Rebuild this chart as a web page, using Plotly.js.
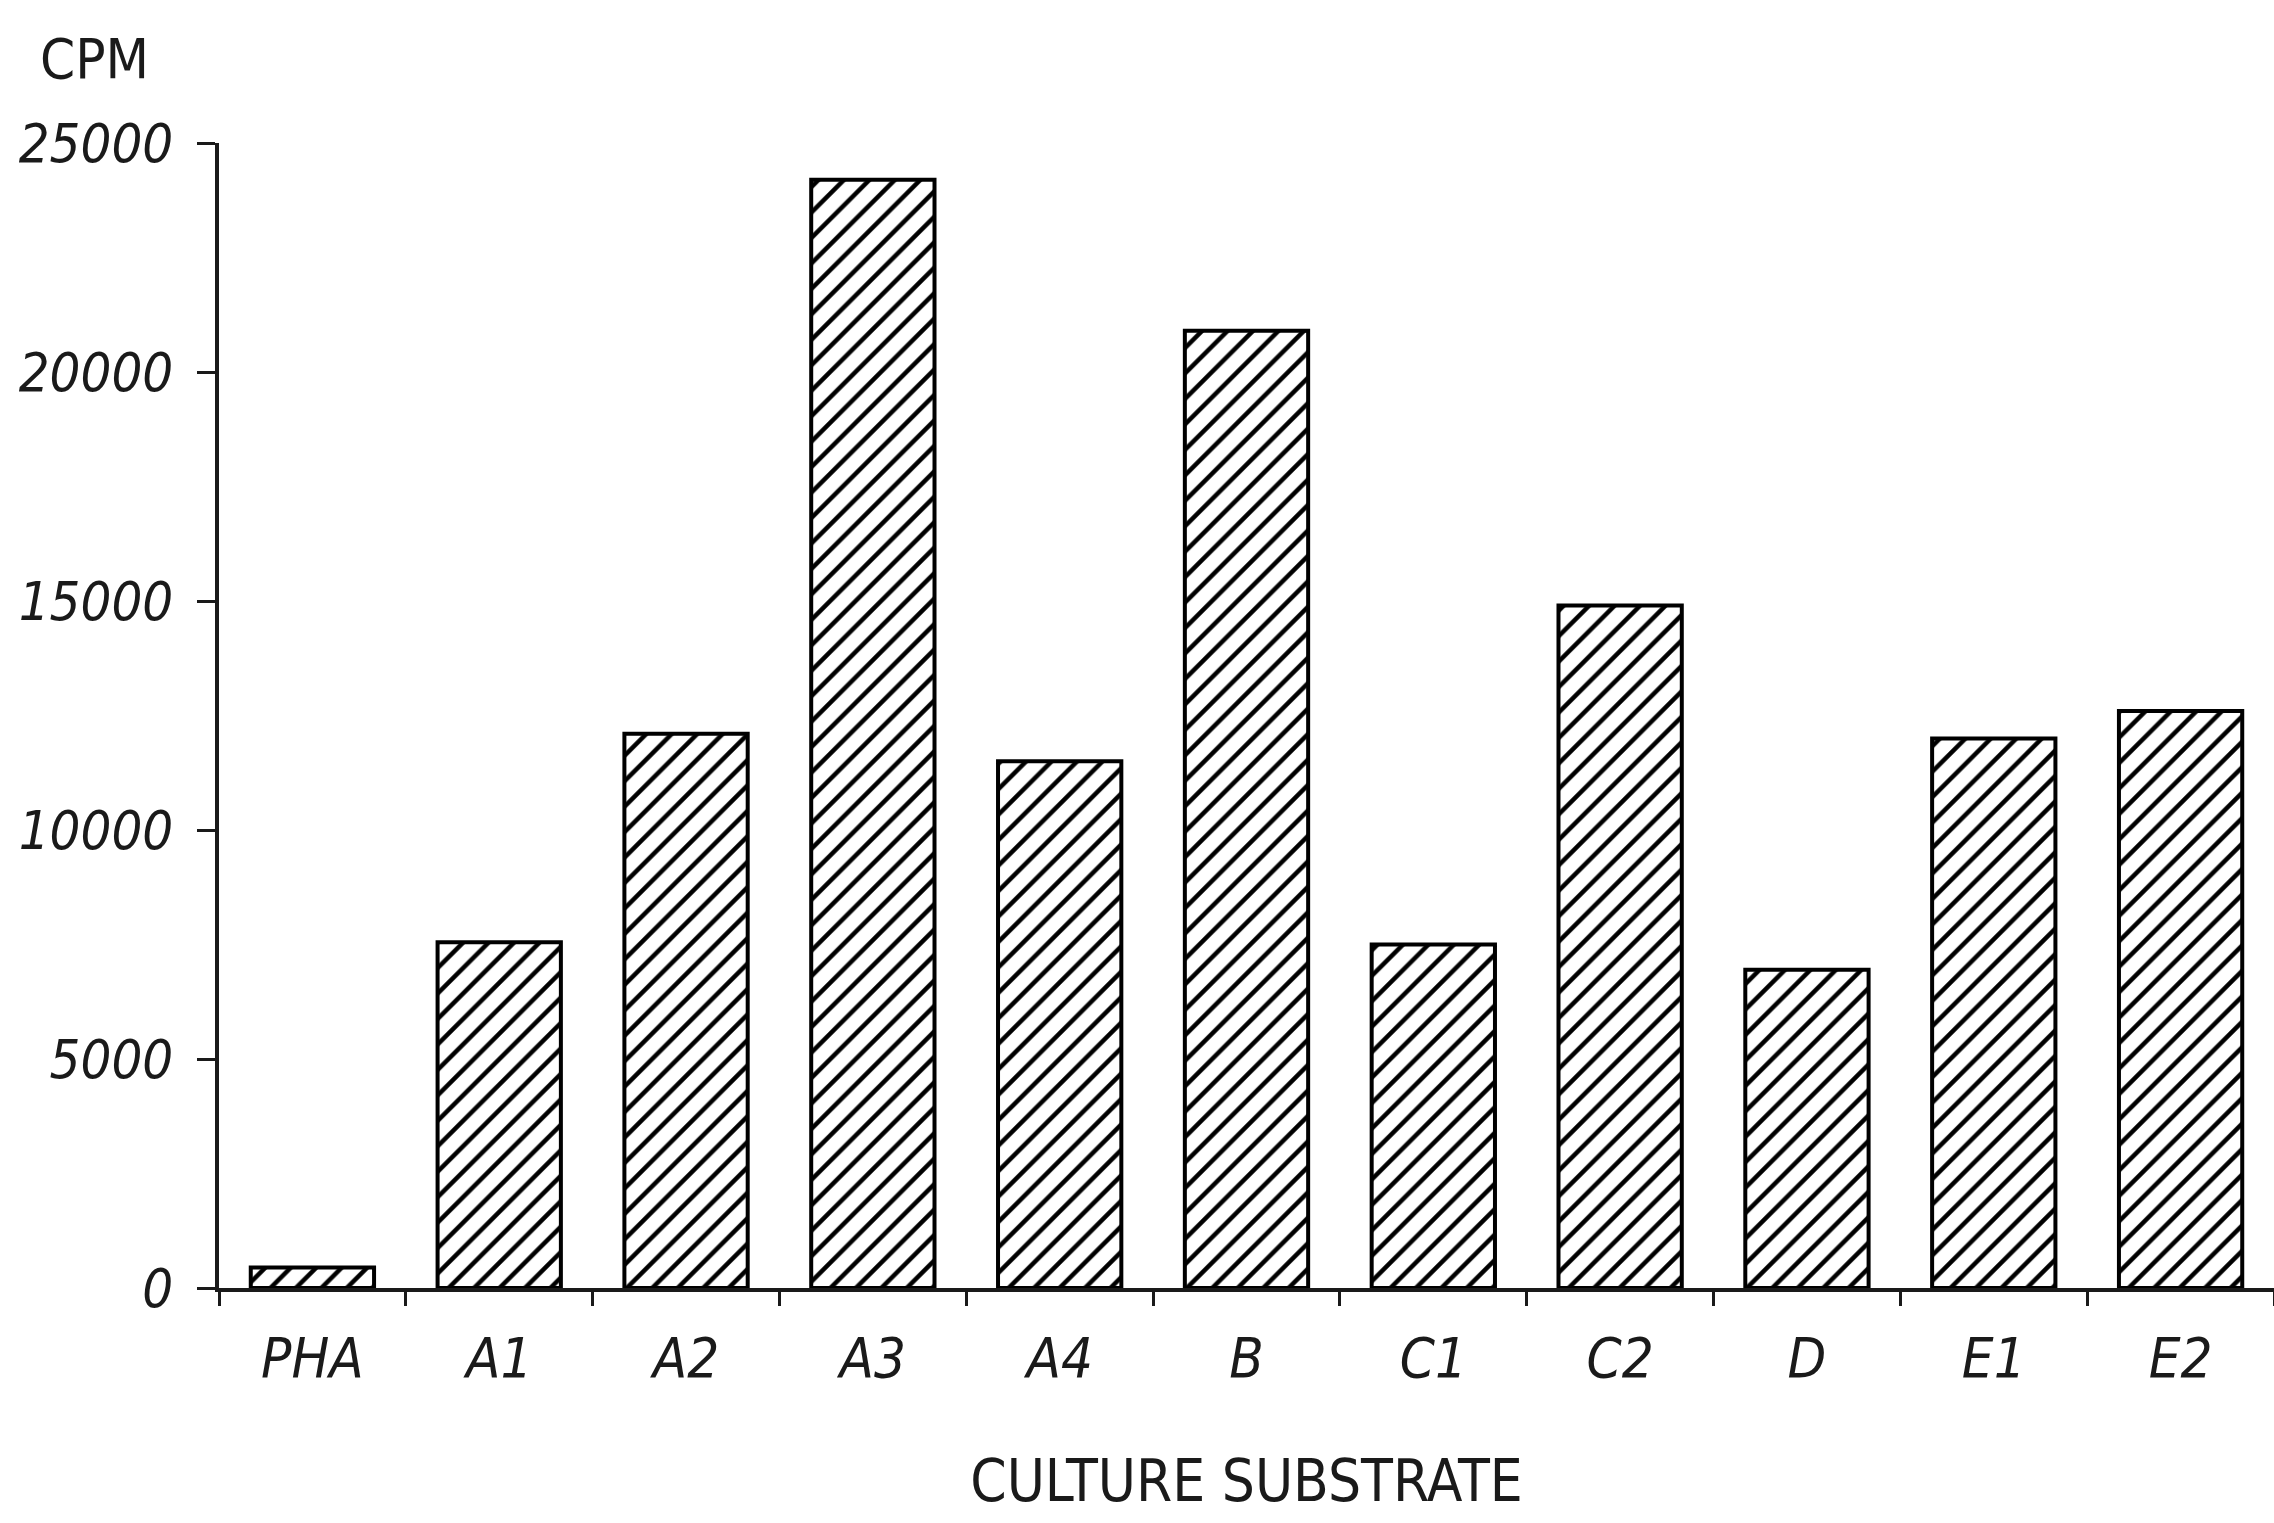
<!DOCTYPE html>
<html>
<head>
<meta charset="utf-8">
<script src="https://cdn.plot.ly/plotly-3.0.1.min.js"></script>
<style>html,body{margin:0;padding:0;background:#fff;}#chart{width:2274px;height:1523px;}</style>
</head>
<body>
<div id="chart"></div>
<script>
const categories = ["PHA", "A1", "A2", "A3", "A4", "B", "C1", "C2", "D", "E1", "E2"];
const cpmValues = [450, 7550, 12100, 24200, 11500, 20900, 7500, 14900, 6950, 12000, 12600];
const yTickValues = [0, 5000, 10000, 15000, 20000, 25000];
const yTickLabels = ["0", "5000", "10000", "15000", "20000", "25000"];
const yAxisLabel = "CPM";
const xAxisLabel = "CULTURE SUBSTRATE";

const FONT = "'DejaVu Sans Condensed', 'DejaVu Sans', sans-serif";
const INK = "#1a1a1a";

const trace = {
  type: "bar",
  x: categories,
  y: cpmValues,
  width: 0.66,
  marker: {
    color: "#ffffff",
    line: {color: "#000000", width: 4},
    pattern: {shape: "/", fgcolor: "#000000", bgcolor: "#ffffff", size: 18, solidity: 0.25}
  },
  hoverinfo: "x+y"
};

const layout = {
  width: 2274,
  height: 1523,
  paper_bgcolor: "#ffffff",
  plot_bgcolor: "#ffffff",
  margin: {l: 219, r: 0, t: 143, b: 235},
  showlegend: false,
  font: {family: FONT, color: INK, size: 56},
  xaxis: {
    type: "category",
    range: [-0.5, 10.5],
    showline: true,
    linecolor: INK,
    linewidth: 4,
    showgrid: false,
    zeroline: false,
    ticks: "outside",
    tickson: "boundaries",
    ticklen: 14,
    tickwidth: 3,
    tickcolor: INK,
    ticklabelstandoff: 18,
    tickfont: {family: FONT, size: 56, color: INK, style: "italic"},
    title: {text: xAxisLabel, font: {family: FONT, size: 58, color: INK}, standoff: 72},
    automargin: false,
    fixedrange: true
  },
  yaxis: {
    range: [0, 25000],
    tickvals: yTickValues,
    ticktext: yTickLabels,
    showline: true,
    linecolor: INK,
    linewidth: 4,
    showgrid: false,
    zeroline: false,
    ticks: "outside",
    ticklen: 18,
    tickwidth: 3,
    tickcolor: INK,
    ticklabelstandoff: 13,
    tickfont: {family: FONT, size: 54, color: INK, style: "italic"},
    automargin: false,
    fixedrange: true
  },
  annotations: [{
    text: yAxisLabel,
    xref: "paper", yref: "paper",
    x: -0.0608, y: 1.074,
    xanchor: "center", yanchor: "middle",
    showarrow: false,
    font: {family: FONT, size: 56, color: INK}
  }]
};

Plotly.newPlot("chart", [trace], layout, {displayModeBar: false, staticPlot: true});
</script>
</body>
</html>
